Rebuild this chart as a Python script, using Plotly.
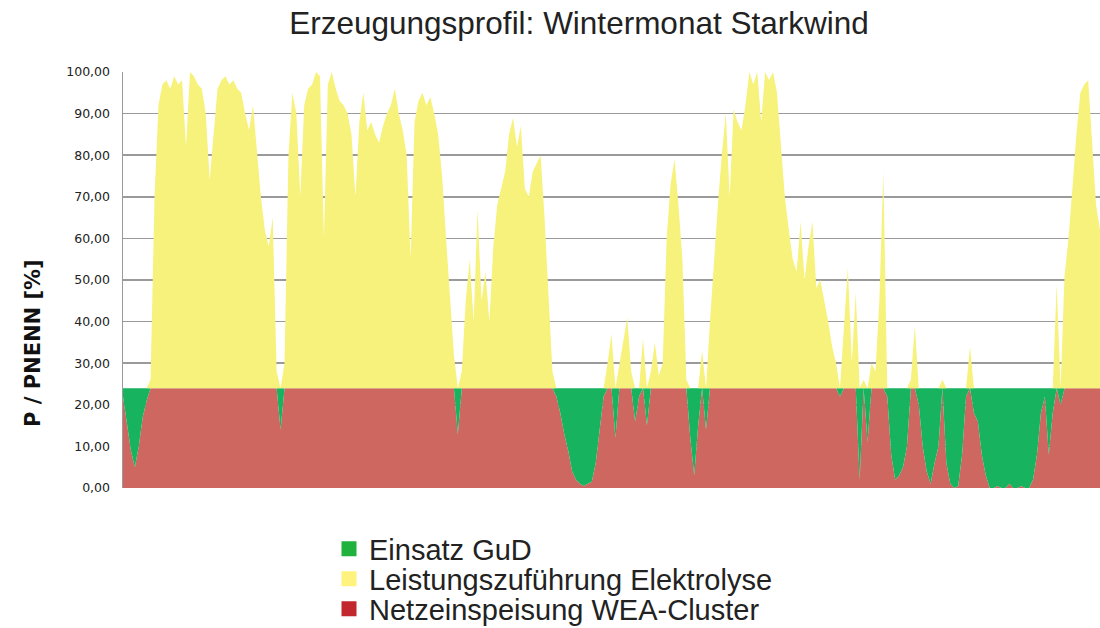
import numpy as np
import plotly.graph_objects as go

# Wind-cluster output profile over a winter month (P / P_nenn in %), sampled every 3 hours
step_h = 3
wind = [
    22, 16, 9, 5, 10, 17, 21, 26, 70, 92,
    97, 98, 96, 99, 97, 98, 82, 100, 99, 97,
    96, 90, 74, 85, 96, 98, 99, 97, 98, 96,
    95, 90, 86, 92, 80, 70, 62, 58, 65, 28,
    14, 30, 80, 95, 90, 70, 92, 96, 97, 100,
    99, 60, 97, 100, 96, 93, 92, 90, 85, 70,
    88, 95, 86, 88, 85, 83, 87, 90, 92, 96,
    90, 86, 80, 55, 88, 93, 95, 92, 94, 90,
    85, 75, 60, 45, 32, 13, 28, 45, 55, 40,
    67, 45, 52, 40, 58, 68, 72, 76, 85, 89,
    82, 87, 72, 70, 76, 78, 80, 65, 45, 28,
    22, 18, 13, 9, 4, 2, 1, 0.5, 1, 1.5,
    6, 14, 22, 30, 37, 12, 30, 36, 41, 28,
    16, 22, 36, 15, 28, 35, 27, 30, 60, 73,
    79, 68, 55, 26, 12, 3, 15, 33, 14, 40,
    55, 68, 80, 90, 70, 91, 88, 86, 92, 100,
    97, 100, 88, 100, 98, 100, 95, 82, 70, 62,
    55, 52, 64, 50, 58, 64, 48, 50, 45, 40,
    34, 30, 22, 40, 53, 30, 47, 2, 26, 11,
    30, 28, 45, 76, 22, 8, 2, 3, 5, 10,
    26, 39, 20, 10, 4, 1, 6, 10, 26, 6,
    1, 0, 0.5, 8, 22, 34, 18, 16, 8, 3,
    0, 0, 0.5, 0, 0, 1, 0, 0, 0.5, 0,
    0, 2, 8, 18, 22, 8, 18, 49, 20, 51,
    60, 72, 85, 95, 97, 98, 82, 68, 62,
]
grid_limit = 24  # share fed into the grid

series_names = ["Einsatz GuD", "Leistungszuführung Elektrolyse", "Netzeinspeisung WEA-Cluster"]
legend_colors = ["#20B23C", "#FFF37E", "#C1272D"]
fill_colors = {"red": "#CD6760", "green": "#17B35E", "yellow": "#F6F27B"}
y_ticks = [0, 10, 20, 30, 40, 50, 60, 70, 80, 90, 100]

w = np.array(wind, dtype=float)
hours = np.arange(len(w)) * step_h
red = np.minimum(w, grid_limit)
green = np.maximum(grid_limit - w, 0)
yellow = np.maximum(w - grid_limit, 0)

# figure geometry (page body margin removed below)
W, H = 1100, 628
L, R, T, B = 123, 0, 72, 140
pw, ph = W - L - R, H - T - B

fig = go.Figure()
for vals, col in [(red, fill_colors["red"]), (green, fill_colors["green"]), (yellow, fill_colors["yellow"])]:
    fig.add_trace(go.Scatter(
        x=hours, y=vals, stackgroup="one", mode="lines",
        line=dict(width=0, color=col), fillcolor=col,
        showlegend=False, hoverinfo="skip",
    ))

legend_ids = ["legend", "legend2", "legend3"]
row_centers = [549, 579, 609]
for name, col, lid in zip(series_names, legend_colors, legend_ids):
    fig.add_trace(go.Scatter(
        x=[None], y=[None], mode="markers", name=name, legend=lid,
        marker=dict(symbol="square", size=15, color=col),
    ))

legend_font = dict(family="Liberation Sans, Arial", size=29, color="#222222")
legend_x = (329 - L) / pw
legends = {}
for lid, yc in zip(legend_ids, row_centers):
    legends[lid] = dict(
        x=legend_x, xanchor="left", y=1 - yc / H, yref="container", yanchor="middle",
        font=legend_font, itemsizing="trace", bgcolor="rgba(0,0,0,0)",
    )

fig.update_layout(
    width=W, height=H,
    margin=dict(l=L, r=R, t=T, b=B),
    paper_bgcolor="white", plot_bgcolor="white",
    separators=",.",
    title=dict(
        text="Erzeugungsprofil: Wintermonat Starkwind",
        x=579 / W, xref="container", xanchor="center",
        y=1 - 23 / H, yref="container", yanchor="middle",
        font=dict(family="Liberation Sans, Arial", size=31.5, color="#222222"),
    ),
    xaxis=dict(visible=False, range=[0, hours[-1]]),
    yaxis=dict(
        range=[0, 100], tickvals=y_ticks, tickformat=".2f",
        showgrid=True, gridcolor="#9A9A9A", gridwidth=1.5,
        showline=True, linecolor="#9A9A9A", linewidth=1.5,
        ticks="", ticklabelstandoff=9,
        tickfont=dict(family="DejaVu Sans", size=12.5, color="#222222"),
        zeroline=False,
    ),
    annotations=[dict(
        text="P / PNENN [%]", textangle=-90,
        x=(33 - L) / pw, xref="paper", y=(H - B - 343) / ph, yref="paper",
        showarrow=False, xanchor="center", yanchor="middle",
        font=dict(family="DejaVu Sans", size=21, color="#111111", weight="bold"),
    )],
    **legends,
)

fig.write_html(
    "out.html",
    config={"displayModeBar": False, "staticPlot": True},
    post_script="document.body.style.margin='0px';",
)
